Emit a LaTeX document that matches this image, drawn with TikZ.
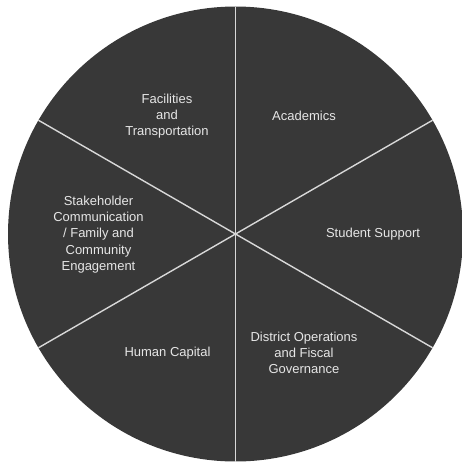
\documentclass[tikz,border=0pt]{standalone}
\usepackage{fontspec}
\setmainfont{Liberation Sans}
\usetikzlibrary{calc}
\definecolor{pie}{HTML}{383838}
\definecolor{txt}{HTML}{E6E6E6}
\definecolor{sep}{HTML}{D8D8D8}
\begin{document}
\begin{tikzpicture}[x=1pt,y=-1pt,
  lbl/.style={text=txt,align=center,font=\fontsize{13}{16.3}\selectfont,inner sep=0pt},
  sepline/.style={draw=sep,line width=1.4pt}]
\useasboundingbox (0,0) rectangle (462,463);
\coordinate (c) at (235.5,234);
\fill[pie] (c) circle (227.5);
\foreach \a/\n in {90/t,30/ur,-30/lr,-90/b,210/ll,150/ul}{
  \coordinate (\n) at ($(c)+({227.5*cos(\a)},{-227.5*sin(\a)})$);
}
\foreach \n in {t,ur,lr,b,ll,ul}{ \draw[sepline] (c) -- (\n); }
\node[lbl] (fac) at (167,116) {Facilities\\and\\Transportation};
\node[lbl] (aca) at (304,116) {Academics};
\node[lbl] (stu) at (373,234.5) {Student Support};
\node[lbl] (dis) at (304,353) {District Operations\\and Fiscal\\Governance};
\node[lbl] (hum) at (167.5,353.5) {Human Capital};
\node[lbl] (sta) at (98.5,234.5) {Stakeholder\\Communication\\/ Family and\\Community\\Engagement};
\end{tikzpicture}
\end{document}
